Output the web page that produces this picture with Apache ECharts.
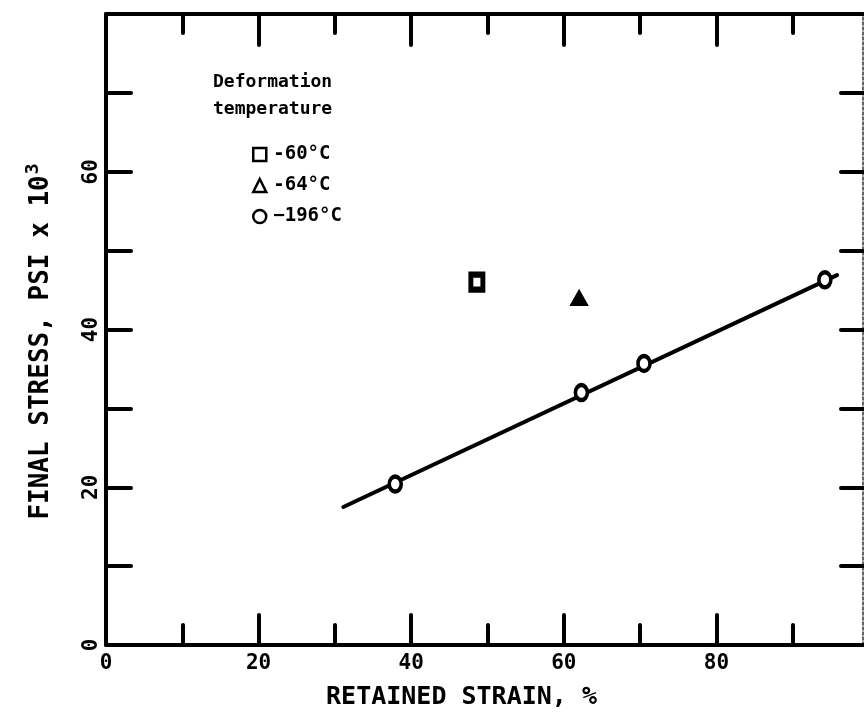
<!DOCTYPE html>
<html>
<head>
<meta charset="utf-8">
<script src="https://cdn.jsdelivr.net/npm/echarts@6/dist/echarts.min.js"></script>
<style>
html,body{margin:0;padding:0;background:#fff;}
#chart{width:864px;height:723px;}
</style>
</head>
<body>
<div id="chart"></div>
<script>
// Data
var seriesNames = ['-60°C', '-64°C', '\u2212196°C'];
var sq60 = [[48.6, 46.0]];
var tri64 = [[62.0, 44.0]];
var circ196 = [[37.9, 20.4], [62.3, 32.0], [70.5, 35.7], [94.2, 46.3]];
var fitX = [31.1, 95.8];
var fitY = [17.5, 46.9];
var xLabelValues = [0, 20, 40, 60, 80];
var xMinorTicks = [10, 30, 50, 70, 90];
var xMajorTicks = [20, 40, 60, 80];
var yTickValues = [10, 20, 30, 40, 50, 60, 70];
var yLabelValues = [0, 20, 40, 60];
var xTitle = 'RETAINED STRAIN, %';
var yTitleMain = 'FINAL STRESS, PSI x 10';
var yTitleSup = '3';
var legendTitle = 'Deformation\ntemperature';

var FONT = '"DejaVu Sans Mono", monospace';
var chart = echarts.init(document.getElementById('chart'), null, {renderer: 'canvas'});

var fitLine = fitX.map(function (x, i) { return [x, fitY[i]]; });

function xAx(pos, ticks, len, showLine, extra) {
  var a = {
    type: 'value', position: pos, min: 0, max: 99.2, gridIndex: 0,
    splitLine: {show: false},
    axisLine: {show: showLine, onZero: false, lineStyle: {color: '#000', width: 4}},
    axisTick: {show: true, inside: true, length: len, customValues: ticks,
      lineStyle: {color: '#000', width: 4, cap: 'round'}},
    axisLabel: {show: false}
  };
  return Object.assign(a, extra || {});
}

var legendItemStyle = {color: '#fff', borderColor: '#000', borderWidth: 2.5};

var option = {
  backgroundColor: '#fff',
  animation: false,
  grid: {left: 106, right: 1, top: 14, bottom: 78, containLabel: false},
  title: {
    text: legendTitle, left: 208, top: 64,
    textStyle: {fontFamily: FONT, fontWeight: 'bold', fontSize: 18, color: '#000', lineHeight: 27}
  },
  legend: {
    data: seriesNames.map(function (n) { return {name: n, itemStyle: legendItemStyle}; }),
    orient: 'vertical', left: 252, top: 145,
    itemWidth: 13, itemHeight: 13, itemGap: 12, padding: 0,
    textStyle: {fontFamily: FONT, fontWeight: 'bold', fontSize: 19, color: '#000', padding: [0, 0, 0, 2]}
  },
  xAxis: [
    xAx('bottom', xMinorTicks, 20, true, {
      axisLabel: {show: true, customValues: xLabelValues, margin: 8,
        fontFamily: FONT, fontWeight: 'bold', fontSize: 21, color: '#000'},
      name: xTitle, nameLocation: 'middle', nameGap: 40,
      nameTextStyle: {fontFamily: FONT, fontWeight: 'bold', fontSize: 25, color: '#000', padding: [0, 46, 0, 0]}
    }),
    xAx('bottom', xMajorTicks, 30, false),
    xAx('top', xMinorTicks, 19, true),
    xAx('top', xMajorTicks, 31, false)
  ],
  yAxis: [
    {
      type: 'value', position: 'left', min: 0, max: 80,
      splitLine: {show: false},
      axisLine: {show: true, onZero: false, lineStyle: {color: '#000', width: 4}},
      axisTick: {show: true, inside: true, length: 25, customValues: yTickValues,
        lineStyle: {color: '#000', width: 4, cap: 'round'}},
      axisLabel: {show: true, customValues: yLabelValues, rotate: 90, margin: 4,
        fontFamily: FONT, fontWeight: 'bold', fontSize: 21, color: '#000'},
      name: '{m|' + yTitleMain + '}{s|' + yTitleSup + '}',
      nameLocation: 'middle', nameGap: 52, nameRotate: 90,
      nameTextStyle: {
        padding: [0, 24, 0, 0],
        rich: {
          m: {fontFamily: FONT, fontWeight: 'bold', fontSize: 26, color: '#000', verticalAlign: 'bottom', lineHeight: 30},
          s: {fontFamily: FONT, fontWeight: 'bold', fontSize: 18, color: '#000', verticalAlign: 'top', lineHeight: 30, padding: [0, 0, 12, 1]}
        }
      }
    },
    {
      type: 'value', position: 'right', min: 0, max: 80,
      splitLine: {show: false},
      axisLine: {show: true, onZero: false, lineStyle: {color: '#333', width: 1.5, type: [3, 2]}},
      axisTick: {show: true, inside: true, length: 22, customValues: yTickValues,
        lineStyle: {color: '#000', width: 4, cap: 'round'}},
      axisLabel: {show: false}
    }
  ],
  series: [
    {
      name: 'fit', type: 'line', xAxisIndex: 0, yAxisIndex: 0, data: fitLine,
      showSymbol: false, symbol: 'none', z: 1,
      lineStyle: {color: '#000', width: 4, cap: 'round'}
    },
    {
      name: seriesNames[0], type: 'scatter', xAxisIndex: 0, yAxisIndex: 0, data: sq60,
      symbol: 'rect', symbolSize: [12, 15], z: 3,
      itemStyle: {color: '#fff', borderColor: '#000', borderWidth: 5.5, opacity: 1}
    },
    {
      name: seriesNames[1], type: 'scatter', xAxisIndex: 0, yAxisIndex: 0, data: tri64,
      symbol: 'triangle', symbolSize: [16, 14], z: 3,
      itemStyle: {color: '#000', borderColor: '#000', borderWidth: 2, opacity: 1}
    },
    {
      name: seriesNames[2], type: 'scatter', xAxisIndex: 0, yAxisIndex: 0, data: circ196,
      symbol: 'circle', symbolSize: [12, 15], z: 3,
      itemStyle: {color: '#fff', borderColor: '#000', borderWidth: 4, opacity: 1}
    }
  ]
};
chart.setOption(option);
</script>
</body>
</html>
